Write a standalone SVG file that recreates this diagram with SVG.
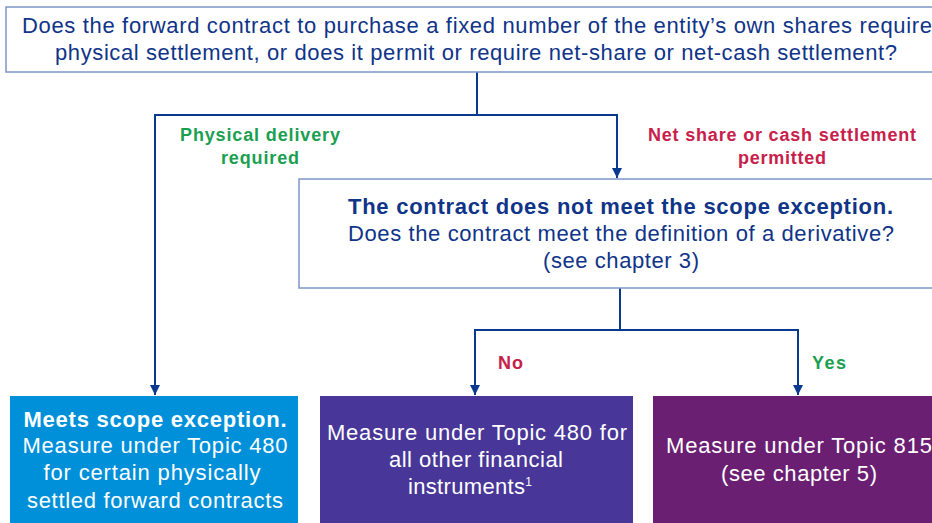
<svg xmlns="http://www.w3.org/2000/svg" width="932" height="523" viewBox="0 0 932 523">
<defs>
<marker id="arr" viewBox="0 0 10 10" refX="10" refY="5" markerWidth="10" markerHeight="11" markerUnits="userSpaceOnUse" orient="auto">
<path d="M0,0 L10,5 L0,10 z" fill="#0a3a8f"/>
</marker>
<style>
.q{fill:#fff;stroke:#7f95c8;stroke-width:1.5}
.t{font-family:"Liberation Sans",Arial,sans-serif;font-size:22px;fill:#0f3488;text-anchor:middle}
.w{font-family:"Liberation Sans",Arial,sans-serif;font-size:22px;fill:#fff;text-anchor:middle}
.b{font-weight:bold}
.lg{font-family:"Liberation Sans",Arial,sans-serif;font-size:18px;font-weight:bold;fill:#1aa050;text-anchor:middle}
.lr{font-family:"Liberation Sans",Arial,sans-serif;font-size:18px;font-weight:bold;fill:#c8204a;text-anchor:middle}
.c{fill:none;stroke:#0a3a8f;stroke-width:2}
</style>
</defs>
<rect width="932" height="523" fill="#fff"/>
<g id="connectors">
<path class="c" d="M477,72 V115 H155 V395" marker-end="url(#arr)"/>
<path class="c" d="M477,115 H617 V178" marker-end="url(#arr)"/>
<path class="c" d="M620,288 V330 H475 V395" marker-end="url(#arr)"/>
<path class="c" d="M620,330 H798 V395" marker-end="url(#arr)"/>
</g>
<g id="q1">
<rect class="q" x="6" y="7" width="940" height="65"/>
<text class="t" x="477" y="33" textLength="910">Does the forward contract to purchase a fixed number of the entity’s own shares require</text>
<text class="t" x="476" y="60" textLength="842">physical settlement, or does it permit or require net-share or net-cash settlement?</text>
</g>
<g id="lbl-physical">
<text class="lg" x="260" y="141" textLength="160">Physical delivery</text>
<text class="lg" x="260" y="164" textLength="78">required</text>
</g>
<g id="lbl-net">
<text class="lr" x="782" y="141" textLength="268">Net share or cash settlement</text>
<text class="lr" x="782" y="164" textLength="88">permitted</text>
</g>
<g id="q2">
<rect class="q" x="299" y="179" width="650" height="109"/>
<text class="t b" x="620.5" y="214" textLength="545">The contract does not meet the scope exception.</text>
<text class="t" x="621" y="241" textLength="546">Does the contract meet the definition of a derivative?</text>
<text class="t" x="621" y="268" textLength="156">(see chapter 3)</text>
</g>
<g id="lbl-no"><text class="lr" x="510.5" y="369" textLength="25">No</text></g>
<g id="lbl-yes"><text class="lg" x="829" y="369" textLength="34">Yes</text></g>
<g id="r1">
<rect x="10" y="396" width="288" height="130" fill="#0090d9"/>
<text class="w b" x="155" y="427" textLength="263">Meets scope exception.</text>
<text class="w" x="155" y="453" textLength="265">Measure under Topic 480</text>
<text class="w" x="152" y="480" textLength="217">for certain physically</text>
<text class="w" x="155" y="508" textLength="256">settled forward contracts</text>
</g>
<g id="r2">
<rect x="320" y="396" width="313" height="130" fill="#483698"/>
<text class="w" x="477" y="440" textLength="300">Measure under Topic 480 for</text>
<text class="w" x="476" y="467" textLength="174">all other financial</text>
<text class="w" x="470" y="494"><tspan textLength="117">instruments</tspan><tspan font-size="12" dy="-8">1</tspan></text>
</g>
<g id="r3">
<rect x="653" y="396" width="290" height="130" fill="#6b1f73"/>
<text class="w" x="799" y="453" textLength="266">Measure under Topic 815</text>
<text class="w" x="799" y="481" textLength="156">(see chapter 5)</text>
</g>
</svg>
